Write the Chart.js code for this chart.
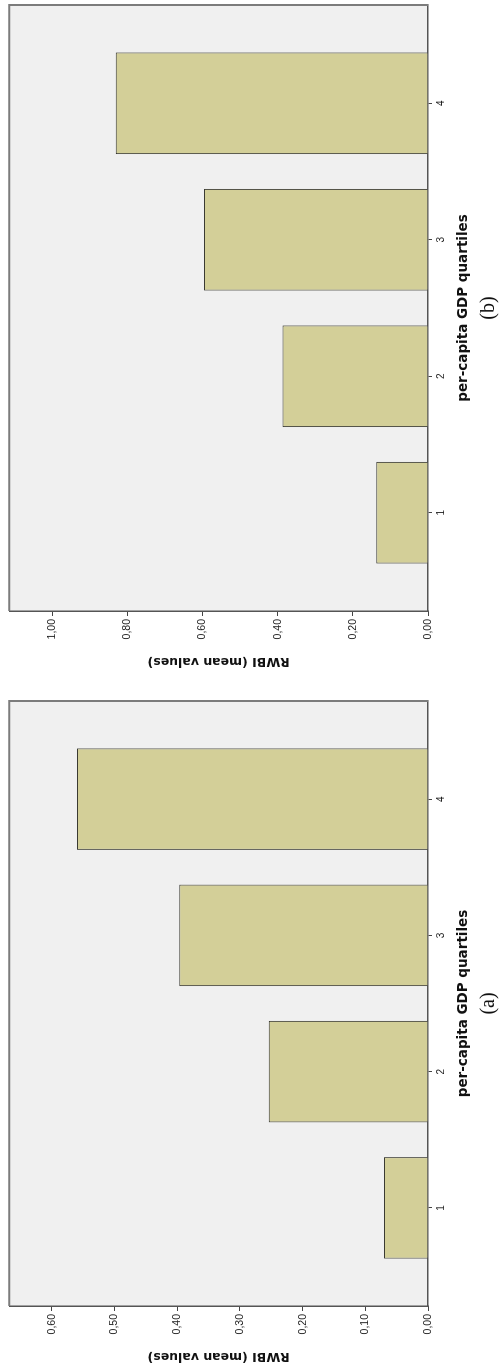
<!DOCTYPE html>
<html>
<head>
<meta charset="utf-8">
<title>RWBI by per-capita GDP quartiles</title>
<script src="https://cdn.jsdelivr.net/npm/chart.js@4.4.1/dist/chart.umd.min.js"></script>
<style>
  html, body { margin: 0; padding: 0; background: #fff; overflow: hidden; }
  /* the figure is laid out upright, then turned a quarter turn like the scan */
  #fig { position: absolute; left: 0; top: 0; width: 1371px; height: 499px;
         transform-origin: 0 0; transform: translateY(1371px) rotate(-90deg); }
  #chartA { position: absolute; left: 0; top: 0; }
  #chartB { position: absolute; left: 695px; top: 0; }
</style>
</head>
<body>
<div id="fig">
  <canvas id="chartA" width="685" height="499"></canvas>
  <canvas id="chartB" width="676" height="499"></canvas>
</div>
<script>
// Values
const quartiles = [1, 2, 3, 4];
const rwbiA = [0.070, 0.254, 0.397, 0.560];
const rwbiB = [0.138, 0.387, 0.596, 0.831];
const axisMaxA = 0.668, stepA = 0.1;
const axisMaxB = 1.114, stepB = 0.2;
const xTitle = 'per-capita GDP quartiles';
const yTitle = 'RWBI (mean values)';

const barFill = '#d3cf98';
const plotBg = '#f0f0f0';

// plot background, outer frame and the (a)/(b) caption
const framePlugin = {
    id: 'frame',
    beforeDraw(chart) {
        const a = chart.chartArea, ctx = chart.ctx;
        ctx.save();
        ctx.fillStyle = plotBg;
        ctx.fillRect(a.left, a.top, a.right - a.left, a.bottom - a.top);
        ctx.restore();
    },
    afterDraw(chart, args, opts) {
        const a = chart.chartArea, ctx = chart.ctx;
        ctx.save();
        ctx.strokeStyle = '#7c7c7c';
        ctx.lineWidth = 2;
        ctx.beginPath();
        ctx.moveTo(a.left, a.top);
        ctx.lineTo(a.right, a.top);
        ctx.lineTo(a.right, a.bottom);
        ctx.stroke();
        ctx.fillStyle = '#111';
        ctx.font = '20px "Liberation Serif", "Times New Roman", serif';
        ctx.textAlign = 'center';
        ctx.textBaseline = 'middle';
        ctx.fillText(opts.caption, (a.left + a.right) / 2, chart.height - 10);
        ctx.restore();
    }
};

function makeChart(id, values, axisMax, step, caption, padRight) {
    const ctx = document.getElementById(id).getContext('2d');
    return new Chart(ctx, {
        type: 'bar',
        data: {
            datasets: [{
                data: quartiles.map((q, i) => ({ x: q, y: values[i] })),
                backgroundColor: barFill,
                borderColor: '#3a3a32',
                borderWidth: 1,
                categoryPercentage: 1,
                barPercentage: 0.745
            }]
        },
        options: {
            responsive: false,
            animation: false,
            layout: { padding: { left: 0, right: padRight, top: 7, bottom: 21 } },
            plugins: {
                legend: { display: false },
                tooltip: { enabled: false },
                frame: { caption: caption }
            },
            scales: {
                x: {
                    type: 'linear',
                    min: 0.28,
                    max: 4.72,
                    offset: false,
                    grid: { offset: false, drawOnChartArea: false, tickLength: 4, color: '#444' },
                    border: { color: '#555', width: 1.5 },
                    ticks: {
                        stepSize: 1,
                        includeBounds: false,
                        maxRotation: 0,
                        padding: 3,
                        color: '#222',
                        font: { family: '"Liberation Sans", Arial, sans-serif', size: 10 }
                    },
                    title: {
                        display: true,
                        text: xTitle,
                        color: '#111',
                        padding: { top: 0, bottom: 6 },
                        font: { family: '"DejaVu Sans", sans-serif', size: 13.5, weight: 'bold' }
                    },
                    afterFit: s => { s.height = 50; }
                },
                y: {
                    min: 0,
                    max: axisMax,
                    grid: { drawOnChartArea: false, tickLength: 5, color: '#444' },
                    border: { color: '#555', width: 1.5 },
                    ticks: {
                        stepSize: step,
                        includeBounds: false,
                        padding: 3,
                        color: '#222',
                        font: { family: '"Liberation Sans", Arial, sans-serif', size: 10.5 },
                        callback: v => v.toFixed(2).replace('.', ',')
                    },
                    title: {
                        display: true,
                        text: yTitle,
                        color: '#111',
                        padding: { top: 7, bottom: 0 },
                        font: { family: '"DejaVu Sans", sans-serif', size: 12.5, weight: 'bold' }
                    },
                    afterFit: s => { s.width = 65; }
                }
            }
        },
        plugins: [framePlugin]
    });
}

const chartA = makeChart('chartA', rwbiA, axisMaxA, stepA, '(a)', 15);
const chartB = makeChart('chartB', rwbiB, axisMaxB, stepB, '(b)', 5);
</script>
</body>
</html>
